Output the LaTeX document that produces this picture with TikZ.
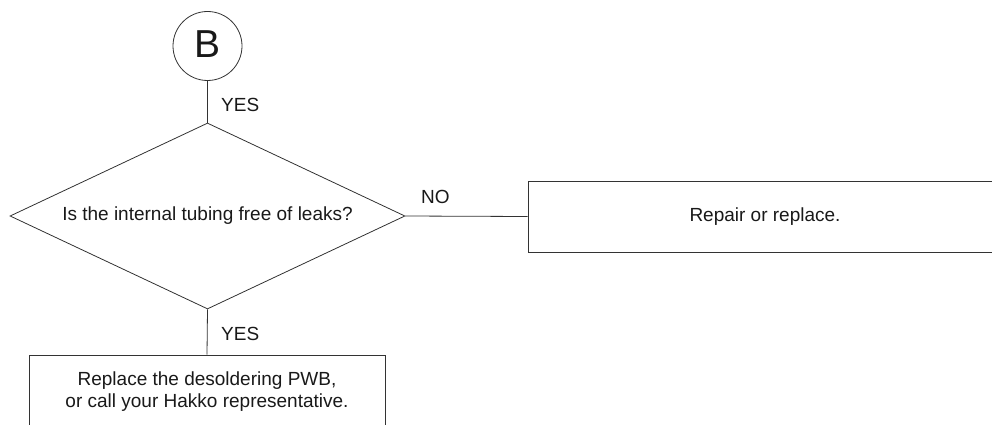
\documentclass[tikz,border=0pt]{standalone}
\usepackage{fontspec}
\setmainfont{Liberation Sans}
\usetikzlibrary{shapes.geometric}
\begin{document}
\begin{tikzpicture}[x=1pt,y=-1pt,
  flowline/.style={draw=black!80,line width=0.8pt},
  txt/.style={font=\fontsize{19}{22}\selectfont,text=black!90},
  branchlabel/.style={txt,anchor=west,inner sep=0pt},
  procbox/.style={flowline,rectangle,inner sep=0pt,txt,align=center},
  decision/.style={flowline,diamond,inner sep=0pt,shape aspect=2.1,txt}]
  \useasboundingbox (0,0) rectangle (992,425);
  % connector circle
  \node[flowline,circle,minimum size=69pt,inner sep=0pt] (conn) at (207.5,46) {};
  \node[anchor=base,inner sep=0pt,font=\fontsize{39}{39}\selectfont,text=black!90] (connB) at (207.5,57.5) {B};
  % decision
  \node[decision,minimum width=395pt,minimum height=186pt] (dec) at (207.5,216) {Is the internal tubing free of leaks?};
  % process boxes
  \node[procbox,minimum width=474pt,minimum height=71pt] (fix) at (765,216.5) {Repair or replace.};
  \node[procbox,minimum width=356pt,minimum height=72pt,text depth=2pt] (pwb) at (207,391) {Replace the desoldering PWB,\\or call your Hakko representative.};
  % connectors
  \draw[flowline] (conn.south) -- (dec.north);
  \draw[flowline] (dec.east) -- (fix.west);
  \draw[flowline] (dec.south) -- (pwb.north);
  % branch labels
  \node[branchlabel] (yes1) at (221,105) {YES};
  \node[branchlabel] (no1) at (421,197) {NO};
  \node[branchlabel] (yes2) at (221,334) {YES};
\end{tikzpicture}
\end{document}
